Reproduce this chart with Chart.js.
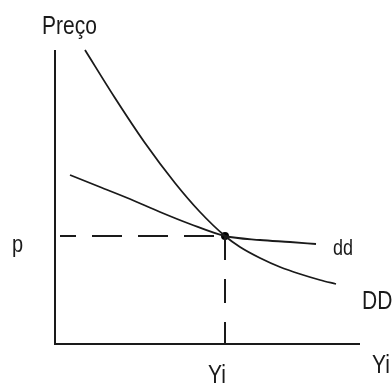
<!DOCTYPE html>
<html>
<head>
<meta charset="utf-8">
<script src="https://cdn.jsdelivr.net/npm/chart.js@4/dist/chart.umd.min.js"></script>
<style>
  html, body { margin: 0; padding: 0; background: #fff; }
  canvas { display: block; }
</style>
</head>
<body>
<canvas id="grafico" width="392" height="383"></canvas>
<script>
// curva DD (procura de mercado) – quantidade x preço
const ddMercadoX = [30, 60, 90, 120, 145, 170, 185, 205, 225, 245, 265, 281];
const ddMercadoY = [294, 246, 201, 161, 132, 108, 97, 86, 77, 70, 64, 60];

// curva dd (procura da empresa)
const ddEmpresaX = [15, 45, 75, 105, 135, 170, 205, 235, 261];
const ddEmpresaY = [169, 157, 145, 132, 120, 108, 104, 102, 100];

// equilíbrio (Yi, p)
const equilibrio = { x: 170, y: 108 };

// eixos
const eixoX = [0, 305];
const eixoY = [0, 294];

// pontinhos soltos à direita
const pontosSoltos = [{ x: 320, y: 172 }, { x: 310, y: 125 }];

const rotulos = [
  { texto: 'Preço', x: -13, y: 310, tam: 21 },
  { texto: 'p', x: -43, y: 92, tam: 20 },
  { texto: 'dd', x: 278, y: 89, tam: 18 },
  { texto: 'DD', x: 307, y: 35, tam: 21 },
  { texto: 'Yi', x: 317, y: -29, tam: 21 },
  { texto: 'Yi', x: 153, y: -39, tam: 21 }
];

const cor = '#1a1a1a';
const pares = (xs, ys) => xs.map((x, i) => ({ x: x, y: ys[i] }));

const textos = {
  id: 'textos',
  afterDraw(chart) {
    const ctx = chart.ctx;
    const sx = chart.scales.x, sy = chart.scales.y;
    ctx.save();
    ctx.fillStyle = cor;
    ctx.textBaseline = 'alphabetic';
    ctx.textAlign = 'left';
    rotulos.forEach(r => {
      ctx.save();
      ctx.translate(sx.getPixelForValue(r.x), sy.getPixelForValue(r.y));
      ctx.scale(1, 1.2);
      ctx.font = r.tam + 'px "Liberation Sans", Arial, sans-serif';
      ctx.fillText(r.texto, 0, 0);
      ctx.restore();
    });
    ctx.restore();
  }
};

const linha = (dados, extra) => Object.assign({
  type: 'line',
  data: dados,
  borderColor: cor,
  borderWidth: 1.8,
  pointRadius: 0,
  fill: false,
  clip: false
}, extra);

new Chart(document.getElementById('grafico'), {
  type: 'line',
  data: {
    datasets: [
      linha([{ x: eixoY[0], y: eixoY[1] }, { x: eixoY[0], y: eixoY[0] }, { x: eixoX[1], y: eixoX[0] }], { borderWidth: 2 }),
      linha([{ x: 5, y: equilibrio.y }, equilibrio], { borderDash: [30, 16], borderDashOffset: 14, borderWidth: 2 }),
      linha([equilibrio, { x: equilibrio.x, y: 0 }], { borderDash: [24, 19], borderWidth: 2 }),
      linha(pares(ddMercadoX, ddMercadoY), { cubicInterpolationMode: 'monotone' }),
      linha(pares(ddEmpresaX, ddEmpresaY), { cubicInterpolationMode: 'monotone' }),
      {
        type: 'scatter',
        data: [equilibrio],
        pointRadius: 4,
        pointBackgroundColor: '#000',
        pointBorderWidth: 0,
        clip: false
      },
      {
        type: 'scatter',
        data: pontosSoltos,
        pointRadius: 1,
        pointBackgroundColor: '#333',
        pointBorderWidth: 0,
        clip: false
      }
    ]
  },
  options: {
    responsive: false,
    animation: false,
    events: [],
    layout: { padding: { left: 55, right: 32, top: 50, bottom: 39 } },
    scales: {
      x: { type: 'linear', min: 0, max: 305, display: false },
      y: { type: 'linear', min: 0, max: 294, display: false }
    },
    plugins: {
      legend: { display: false },
      tooltip: { enabled: false }
    }
  },
  plugins: [textos]
});
</script>
</body>
</html>
